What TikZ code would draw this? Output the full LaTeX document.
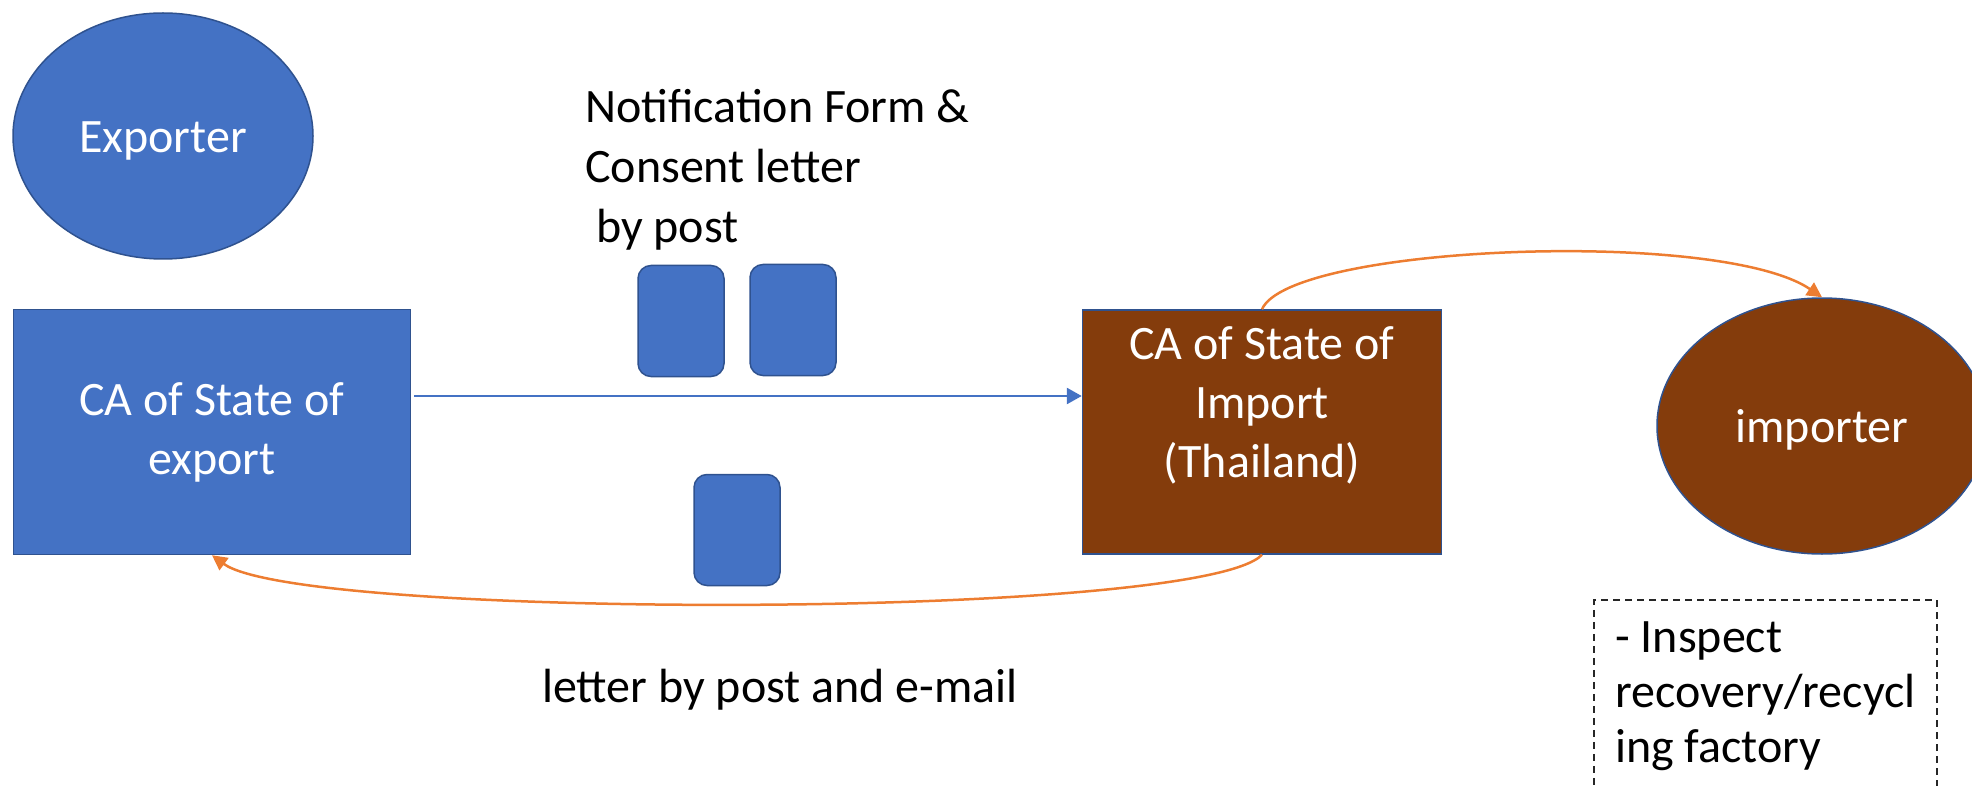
\documentclass[tikz,border=0pt]{standalone}
\usepackage{fontspec}
\setmainfont{Carlito}
\usepackage{tikz}
\usetikzlibrary{shapes.geometric, arrows.meta, positioning}

\definecolor{offblue}{HTML}{4472C4}
\definecolor{edgeblue}{HTML}{2F528F}
\definecolor{offbrown}{HTML}{843C0C}
\definecolor{offorange}{HTML}{ED7D31}

\begin{document}
\begin{tikzpicture}[x=1pt, y=-1pt,
    party/.style={ellipse, draw=edgeblue, line width=1.5pt, text=white, font=\fontsize{48}{59}\selectfont, text height=46pt, text depth=13pt, inner sep=0pt},
    authority/.style={rectangle, draw=edgeblue, line width=1.5pt, text=white, align=center, font=\fontsize{48}{59}\selectfont, inner sep=0pt},
    doc/.style={rectangle, rounded corners=13pt, draw=edgeblue, fill=offblue, line width=1.5pt, minimum width=86pt, minimum height=111pt, inner sep=0pt},
    caption/.style={font=\fontsize{48}{60}\selectfont, inner sep=0pt, align=left},
    sendarrow/.style={draw=offblue, line width=2.7pt, -{Triangle[length=15pt,width=16pt]}},
    mailarrow/.style={draw=offorange, line width=2.5pt, -{Triangle[length=15pt,width=15pt]}},
  ]
    \useasboundingbox (0,0) rectangle (1972,786);

    % Exporter
    \node[party, fill=offblue, minimum width=300pt, minimum height=246pt] (exporter) at (163,136) {Exporter};

    % Competent authorities
    \node[authority, fill=offblue, minimum width=397pt, minimum height=245pt] (caexp) at (212,432) {CA of State of\\export};
    \node[authority, fill=offbrown, minimum width=359pt, minimum height=244pt] (caimp) at (1262,432) {CA of State of\\Import\\(Thailand)\\~};

    % Importer
    \node[party, fill=offbrown, minimum width=330pt, minimum height=256pt] (importer) at (1822,426) {importer};

    % Letters
    \node[doc] (docA) at (681,321) {};
    \node[doc] (docB) at (793,320) {};
    \node[doc] (docC) at (737,530) {};

    % Notification
    \coordinate (sendstart) at (414,396);
    \draw[sendarrow] (sendstart) -- (sendstart -| caimp.west);
    \node[caption, anchor=north west] (formlbl) at (585,89) {Notification Form \&\\Consent letter\\\ by post};

    % Replies
    \draw[mailarrow] (caimp.north) .. controls (1290,245) and (1720,228) .. (importer.north);
    \draw[mailarrow] (caimp.south) .. controls (1200,620) and (300,620) .. (caexp.south);
    \node[caption, anchor=base west] (replylbl) at (542,702) {letter by post and e-mail};

    % Inspection
    \node[draw=black!85, dash pattern=on 7pt off 5pt, line width=1.5pt, anchor=north west, minimum width=343pt, inner ysep=0pt, minimum height=192pt, align=left, font=\fontsize{48}{55}\selectfont] (inspect) at (1593,599) {- Inspect\\recovery/recycl\\ing factory};
\end{tikzpicture}
\end{document}
